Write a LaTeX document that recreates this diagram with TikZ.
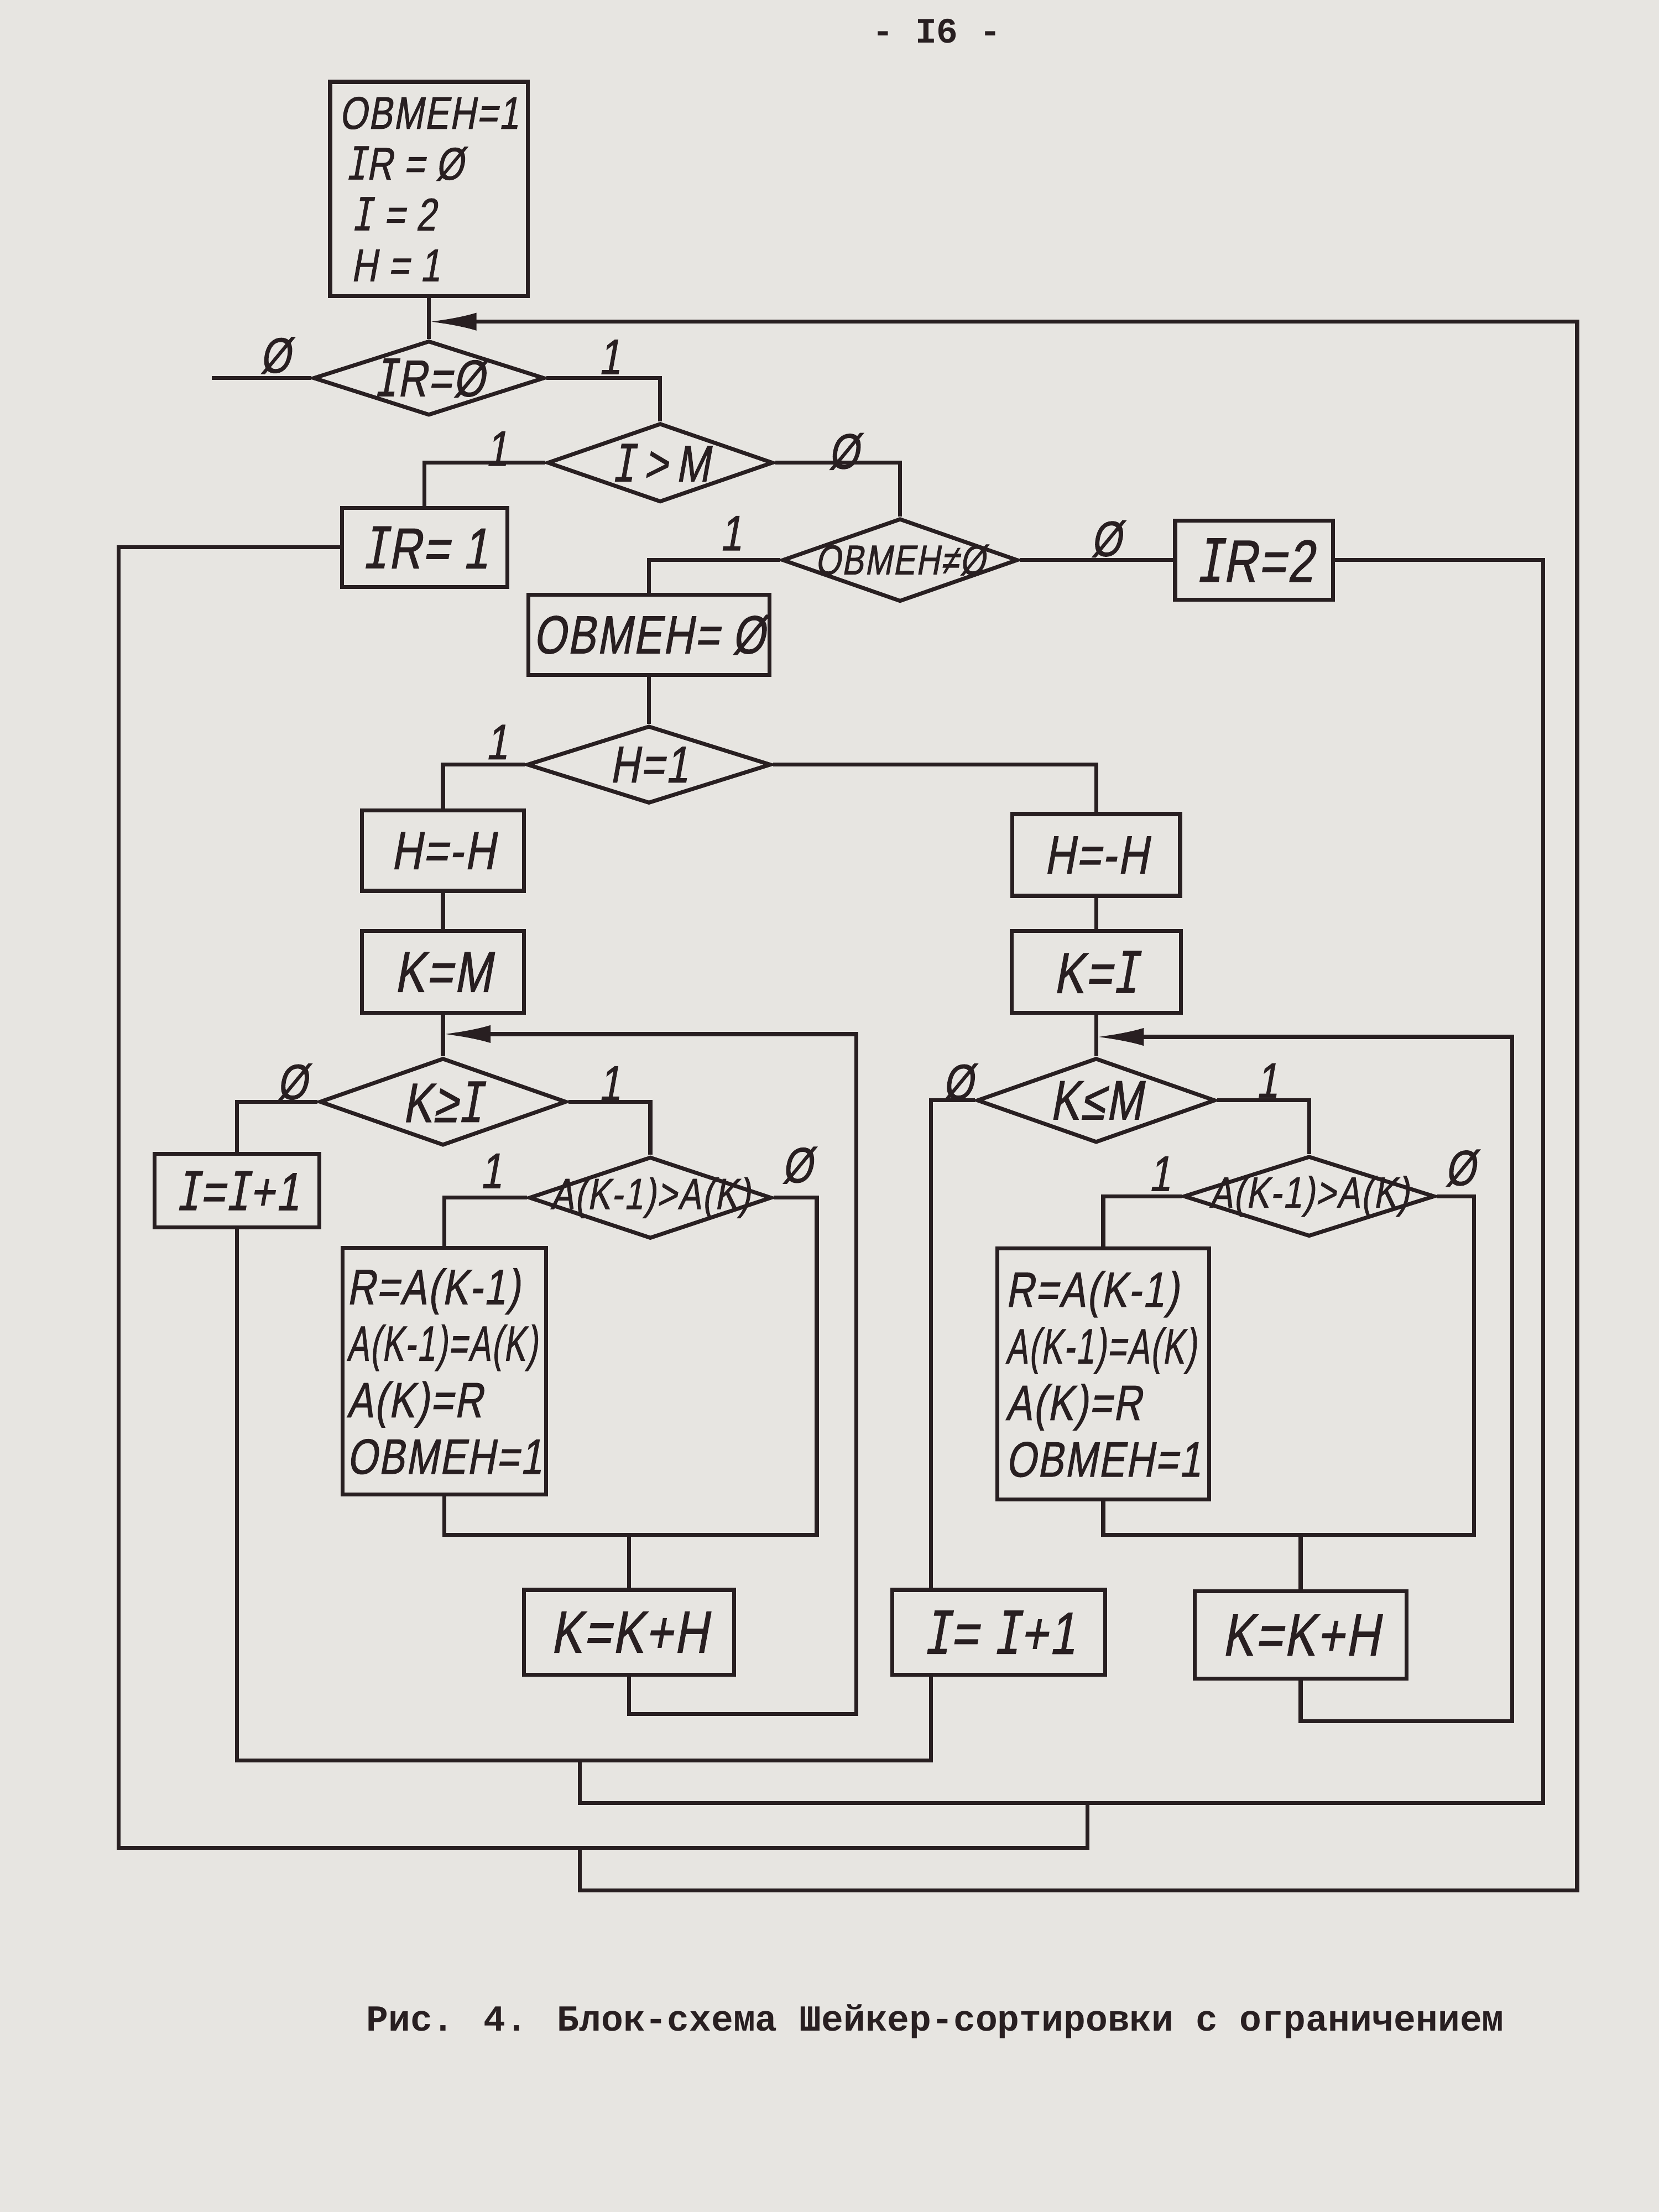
\documentclass[tikz,border=0pt]{standalone}
\usepackage{fontspec}
\usepackage{graphicx}
\usetikzlibrary{shapes.geometric,arrows.meta}
\newfontfamily\hand[FakeSlant=0.18,FakeStretch=0.78,FakeBold=1.2,LetterSpace=3]{Liberation Sans}
\newfontfamily\handI[FakeSlant=0.18,FakeStretch=0.78,FakeBold=0.6]{DejaVu Sans Mono}
\newfontfamily\typew{Liberation Mono}
\newcommand\Iv{{\handI I}}
\definecolor{paper}{RGB}{231,229,225}
\definecolor{ink}{RGB}{40,31,33}
\newcommand\hfs[1]{\hand\fontsize{#1}{#1}\selectfont}
\begin{document}
\begin{tikzpicture}[x=0.025cm,y=-0.025cm,
  ln/.style={draw=ink,line width=2pt,line join=miter,line cap=butt},
  arr/.style={ln,-{Latex[length=24pt,width=9pt]}},
  bx/.style 2 args={draw=ink,line width=2pt,rectangle,
     minimum width=#1*0.025cm,minimum height=#2*0.025cm,inner sep=0pt},
  dm/.style 2 args={draw=ink,line width=2pt,diamond,
     minimum width=#1*0.025cm,minimum height=#2*0.025cm,inner sep=0pt},
  bt/.style={text=ink,inner sep=0pt},
  lab/.style={text=ink,font=\hfs{25},inner sep=0pt},
]
\fill[paper] (0,0) rectangle (1176,1568);
\useasboundingbox (0,0) rectangle (1176,1568);

% header and caption
\node[text=ink,font=\typew\bfseries\fontsize{18}{18}\selectfont] (pg) at (664,22) {- I6 -};
\node[text=ink,font=\typew\bfseries\fontsize{18.5}{18.5}\selectfont] (cap) at (663,1433) {Рис. 4. Блок-схема Шейкер-сортировки с ограничением};

% main column
\node[bx={140}{152},label={[bt,align=left,font=\hand\fontsize{23}{25.6}\selectfont]center:{OBMEH=1\\\hspace*{3pt}\Iv R = Ø\\\hspace*{6pt}\Iv\ = 2\\\hspace*{6pt}H = 1}}] (start) at (304,134) {};
\node[dm={164}{53},label={[bt,font=\hfs{26}]center:{\Iv R=Ø}}] (irz) at (304,268) {};
\node[dm={160}{56},label={[bt,font=\hfs{26}]center:{\Iv\,>\,M}}] (igm) at (468,328) {};
\node[bx={117}{56},label={[bt,font=\hfs{29}]center:{\Iv R= 1}}] (ir1) at (301,388) {};
\node[dm={167}{59},label={[bt,font=\hfs{21}]center:{OBMEH≠Ø}}] (obne) at (638,397) {};
\node[bx={112}{56},label={[bt,font=\hfs{30}]center:{\Iv R=2}}] (ir2) at (889,397) {};
\node[bx={171}{57},label={[bt,font=\hfs{27}]center:{OBMEH= Ø}}] (obz) at (460,450) {};
\node[dm={173}{55},label={[bt,font=\hfs{26}]center:{H=1}}] (h1) at (460,542) {};

% left branch
\node[bx={115}{57},label={[bt,font=\hfs{27}]center:{H=-H}}] (hl) at (314,603) {};
\node[bx={115}{58},label={[bt,font=\hfs{29}]center:{K=M}}] (km) at (314,689) {};
\node[dm={175}{62},label={[bt,font=\hfs{28}]center:{K≥\Iv}}] (kgi) at (314,781) {};
\node[bx={117}{52},label={[bt,font=\hfs{27}]center:{\Iv=\Iv+1}}] (iil) at (168,844) {};
\node[dm={172}{58},label={[bt,font=\hfs{22}]center:{A(K-1)>A(K)}}] (al) at (461,849) {};
\node[bx={144}{175},label={[bt,align=left,font=\hand\fontsize{25}{28.5}\selectfont]center:{R=A(K-1)\\\scalebox{0.84}[1]{A(K-1)=A(K)}\\A(K)=R\\OBMEH=1}}] (swl) at (315,972) {};
\node[bx={149}{60},label={[bt,font=\hfs{30}]center:{K=K+H}}] (kkl) at (446,1157) {};

% right branch
\node[bx={119}{58},label={[bt,font=\hfs{27}]center:{H=-H}}] (hr) at (777,606) {};
\node[bx={120}{58},label={[bt,font=\hfs{29}]center:{K=\Iv}}] (ki) at (777,689) {};
\node[dm={169}{60},label={[bt,font=\hfs{28}]center:{K≤M}}] (klm) at (777,780) {};
\node[dm={178}{57},label={[bt,font=\hfs{22}]center:{A(K-1)>A(K)}}] (ar) at (928,848) {};
\node[bx={150}{178},label={[bt,align=left,font=\hand\fontsize{25}{28.5}\selectfont]center:{R=A(K-1)\\\scalebox{0.84}[1]{A(K-1)=A(K)}\\A(K)=R\\OBMEH=1}}] (swr) at (782,974) {};
\node[bx={151}{60},label={[bt,font=\hfs{30}]center:{\Iv= \Iv+1}}] (iir) at (708,1157) {};
\node[bx={150}{62},label={[bt,font=\hfs{30}]center:{K=K+H}}] (kkr) at (922,1159) {};

% connectors: top part
\coordinate (jtop) at (304,228);
\draw[ln] (start.south) -- (irz.north);
\coordinate (exL) at (150,268);
\draw[ln] (irz.west) -- (exL);
\draw[ln] (irz.east) -| (igm.north);
\draw[ln] (igm.west) -| (ir1.north);
\draw[ln] (igm.east) -| (obne.north);
\draw[ln] (obne.west) -| (obz.north);
\draw[ln] (obne.east) -- (ir2.west);
\draw[ln] (obz.south) -- (h1.north);
\draw[ln] (h1.west) -| (hl.north);
\draw[ln] (h1.east) -| (hr.north);

% left loop
\draw[ln] (hl.south) -- (km.north);
\draw[ln] (km.south) -- (kgi.north);
\draw[ln] (kgi.west) -| (iil.north);
\draw[ln] (kgi.east) -| (al.north);
\draw[ln] (al.west) -| (swl.north);
\coordinate (alB) at (579,1088);
\coordinate (swlB) at (315,1088);
\coordinate (kklT) at (446,1088);
\draw[ln] (al.east) -| (alB) -- (swlB) -- (swl.south);
\draw[ln] (kklT) -- (kkl.north);
\coordinate (lpB) at (607,1215);
\coordinate (lpT) at (607,733);
\coordinate (lpE) at (314,733);
\draw[arr] (kkl.south) |- (lpB) -- (lpT) -- (lpE);

% right loop
\draw[ln] (hr.south) -- (ki.north);
\draw[ln] (ki.south) -- (klm.north);
\coordinate (iirx) at (660,1248);
\draw[ln] (klm.west) -| (iir.north -| iirx);
\draw[ln] (klm.east) -| (ar.north);
\draw[ln] (ar.west) -| (swr.north);
\coordinate (arB) at (1045,1088);
\coordinate (swrB) at (782,1088);
\coordinate (kkrT) at (922,1088);
\draw[ln] (ar.east) -| (arB) -- (swrB) -- (swr.south);
\draw[ln] (kkrT) -- (kkr.north);
\coordinate (rpB) at (1072,1220);
\coordinate (rpT) at (1072,735);
\coordinate (rpE) at (777,735);
\draw[arr] (kkr.south) |- (rpB) -- (rpT) -- (rpE);

% bottom collectors
\draw[ln] (iil.south) |- (iirx) -- (iir.south -| iirx);
\coordinate (j1) at (411,1248);
\coordinate (j1b) at (411,1278);
\coordinate (rB) at (1094,1278);
\draw[ln] (ir2.east) -| (rB) -- (j1b) -- (j1);
\coordinate (j2) at (771,1278);
\coordinate (j2b) at (771,1310);
\coordinate (lB) at (84,1310);
\draw[ln] (ir1.west) -| (lB) -- (j2b) -- (j2);
\coordinate (j3) at (411,1310);
\coordinate (j3b) at (411,1340);
\coordinate (tB) at (1118,1340);
\coordinate (tT) at (1118,228);
\draw[arr] (j3) -- (j3b) -- (tB) -- (tT) -- (jtop);

% branch labels
\node[lab] (b1) at (195,252) {Ø};
\node[lab] (b2) at (432,253) {1};
\node[lab] (b3) at (352,318) {1};
\node[lab] (b4) at (598,320) {Ø};
\node[lab] (b5) at (518,378) {1};
\node[lab] (b6) at (784,382) {Ø};
\node[lab] (b7) at (352,526) {1};
\node[lab] (b8) at (207,767) {Ø};
\node[lab] (b9) at (432,768) {1};
\node[lab] (b10) at (348,830) {1};
\node[lab] (b11) at (565,826) {Ø};
\node[lab] (b12) at (679,767) {Ø};
\node[lab] (b13) at (898,766) {1};
\node[lab] (b14) at (822,832) {1};
\node[lab] (b15) at (1035,828) {Ø};
\end{tikzpicture}
\end{document}
